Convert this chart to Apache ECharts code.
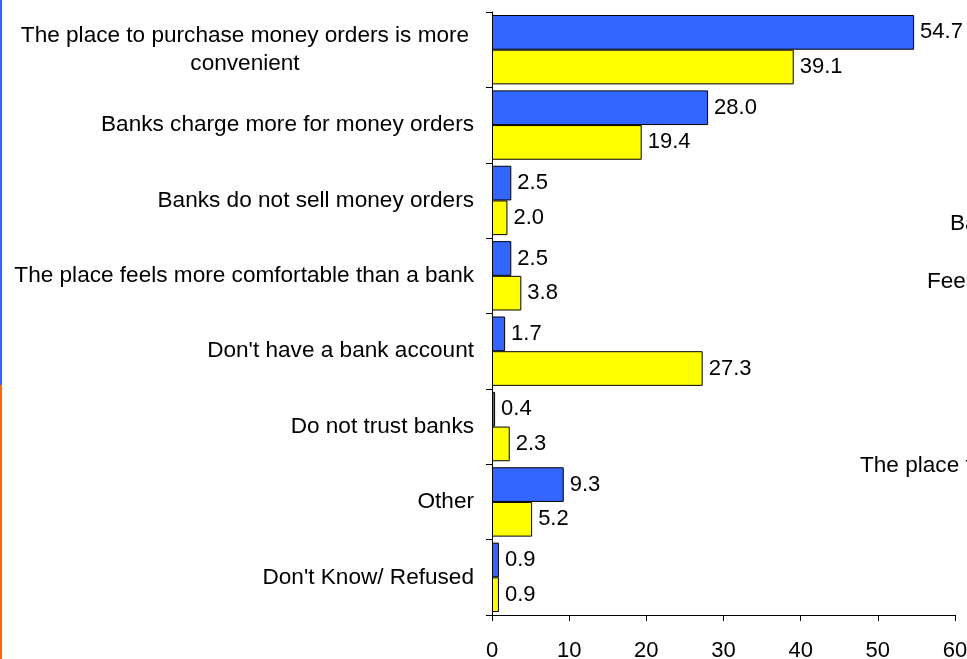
<!DOCTYPE html>
<html>
<head>
<meta charset="utf-8">
<script src="https://cdn.jsdelivr.net/npm/echarts@6/dist/echarts.min.js"></script>
<style>
  html, body { margin: 0; padding: 0; background: #fff; }
  #chart { width: 967px; height: 659px; }
</style>
</head>
<body>
<div id="chart"></div>
<script>
// Reasons for buying money orders away from a bank (percent)
const categories = [
  'The place to purchase money orders is more\nconvenient',
  'Banks charge more for money orders',
  'Banks do not sell money orders',
  'The place feels more comfortable than a bank',
  "Don't have a bank account",
  'Do not trust banks',
  'Other',
  "Don't Know/ Refused"
];
const seriesA = [54.7, 28.0, 2.5, 2.5, 1.7, 0.4, 9.3, 0.9];
const seriesB = [39.1, 19.4, 2.0, 3.8, 27.3, 2.3, 5.2, 0.9];
const xTicks = [0, 10, 20, 30, 40, 50, 60];

const FONT = '"Liberation Sans", Arial, sans-serif';
const chart = echarts.init(document.getElementById('chart'), null, { renderer: 'canvas' });

const valueLabel = {
  show: true,
  position: 'right',
  distance: 6,
  color: '#000',
  fontFamily: FONT,
  fontSize: 22,
  formatter: p => p.value.toFixed(1)
};

chart.setOption({
  animation: false,
  backgroundColor: '#fff',
  grid: { left: 492, right: 12, top: 12, bottom: 44, containLabel: false, outerBoundsMode: 'none' },
  xAxis: {
    type: 'value',
    min: xTicks[0],
    max: xTicks[xTicks.length - 1],
    interval: xTicks[1] - xTicks[0],
    splitLine: { show: false },
    axisLine: { show: true, lineStyle: { color: '#000', width: 1 } },
    axisTick: { show: true, length: 6, lineStyle: { color: '#000' } },
    axisLabel: { color: '#000', fontFamily: FONT, fontSize: 22, margin: 25 }
  },
  yAxis: {
    type: 'category',
    inverse: true,
    data: categories,
    axisLine: { show: true, lineStyle: { color: '#000', width: 1 } },
    axisTick: { show: true, length: 6, lineStyle: { color: '#000' } },
    axisLabel: {
      color: '#000',
      fontFamily: FONT,
      fontSize: 22.6,
      margin: 18,
      lineHeight: 28,
      formatter: v => v.indexOf('\n') >= 0
        ? v.split('\n').map(s => '{c|' + s + '}').join('\n')
        : v,
      rich: {
        c: { width: 458, align: 'center', fontFamily: FONT, fontSize: 22.6, color: '#000', lineHeight: 28 }
      }
    }
  },
  series: [
    {
      type: 'bar',
      data: seriesA,
      barGap: '0%',
      barCategoryGap: '8%',
      itemStyle: { color: '#3366FF', borderColor: '#000', borderWidth: 1 },
      label: valueLabel
    },
    {
      type: 'bar',
      data: seriesB,
      barGap: '0%',
      barCategoryGap: '8%',
      itemStyle: { color: '#FFFF00', borderColor: '#000', borderWidth: 1 },
      label: valueLabel
    }
  ],
  graphic: [
    // coloured edge strips on the left margin
    { type: 'rect', left: 0, top: 0, shape: { width: 2, height: 385 }, style: { fill: '#3366FF' }, silent: true },
    { type: 'rect', left: 0, top: 385, shape: { width: 2, height: 274 }, style: { fill: '#FF6600' }, silent: true },
    // side notes running off the right edge
    { type: 'text', x: 950, y: 224, style: { text: 'Banks', fill: '#000', font: '22.6px ' + FONT, textVerticalAlign: 'middle' }, silent: true },
    { type: 'text', x: 927, y: 282, style: { text: 'Fees', fill: '#000', font: '22.6px ' + FONT, textVerticalAlign: 'middle' }, silent: true },
    { type: 'text', x: 860, y: 466, style: { text: 'The place to', fill: '#000', font: '22.6px ' + FONT, textVerticalAlign: 'middle' }, silent: true }
  ]
});
</script>
</body>
</html>
